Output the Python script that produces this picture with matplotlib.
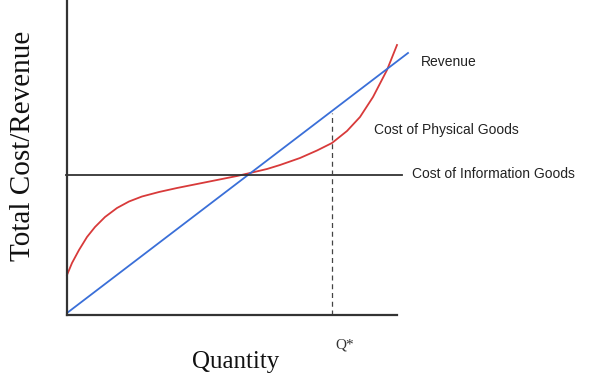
import matplotlib.pyplot as plt

# data (units: pixels from the origin)
red_x = [0, 5, 12, 20, 28, 38, 50, 62, 75, 92, 110, 130, 150, 170, 183, 200, 213,
         233, 250, 265, 280, 293, 306, 320, 330]
red_y = [40, 52, 65, 78, 88, 98, 107, 113.5, 118.5, 123, 127, 131, 135, 139, 142, 146, 150,
         157, 164.5, 172, 184, 198, 218, 245, 270]
rev_x = [0, 341]
rev_y = [2, 262]
info_x = [-1, 335]
info_y = [140, 140]
q_star = 265
q_top = 202

fig = plt.figure(figsize=(6, 3.8), dpi=100)
ax = fig.add_axes([67 / 600, 65 / 380, 345 / 600, 315 / 380])
ax.set_xlim(0, 345)
ax.set_ylim(0, 315)

ax.plot(red_x, red_y, color='#d83a3a', lw=1.3, clip_on=False, solid_joinstyle='round')
ax.plot(rev_x, rev_y, color='#3a6fd8', lw=1.3, clip_on=False)
ax.plot(info_x, info_y, color='#333333', lw=1.3, clip_on=False)
ax.plot([q_star, q_star], [0, q_top], color='#444444', lw=0.9, ls=(0, (4, 3)))

for s in ['top', 'right']:
    ax.spines[s].set_visible(False)
ax.spines['bottom'].set_bounds(0, 330)
for s in ['left', 'bottom']:
    ax.spines[s].set_linewidth(1.6)
    ax.spines[s].set_color('#333333')
ax.set_xticks([])
ax.set_yticks([])

sans = 'Liberation Sans'
serif = 'Liberation Serif'
ax.text(354, 253, 'Revenue', fontsize=10, family=sans, va='center', color='#222222')
ax.text(307, 185, 'Cost of Physical Goods', fontsize=10, family=sans, va='center', color='#222222')
ax.text(345, 141, 'Cost of Information Goods', fontsize=10, family=sans, va='center', color='#222222')
ax.text(q_star + 13, -30, 'Q*', fontsize=11, family=serif, ha='center', va='center', color='#333333')
ax.text(169, -47, 'Quantity', fontsize=18, family=serif, ha='center', va='center', color='#111111')
ax.text(-44, 169, 'Total Cost/Revenue', fontsize=21, family=serif, ha='center', va='center',
        rotation=90, color='#111111')

fig.savefig('out.png', dpi=100)
